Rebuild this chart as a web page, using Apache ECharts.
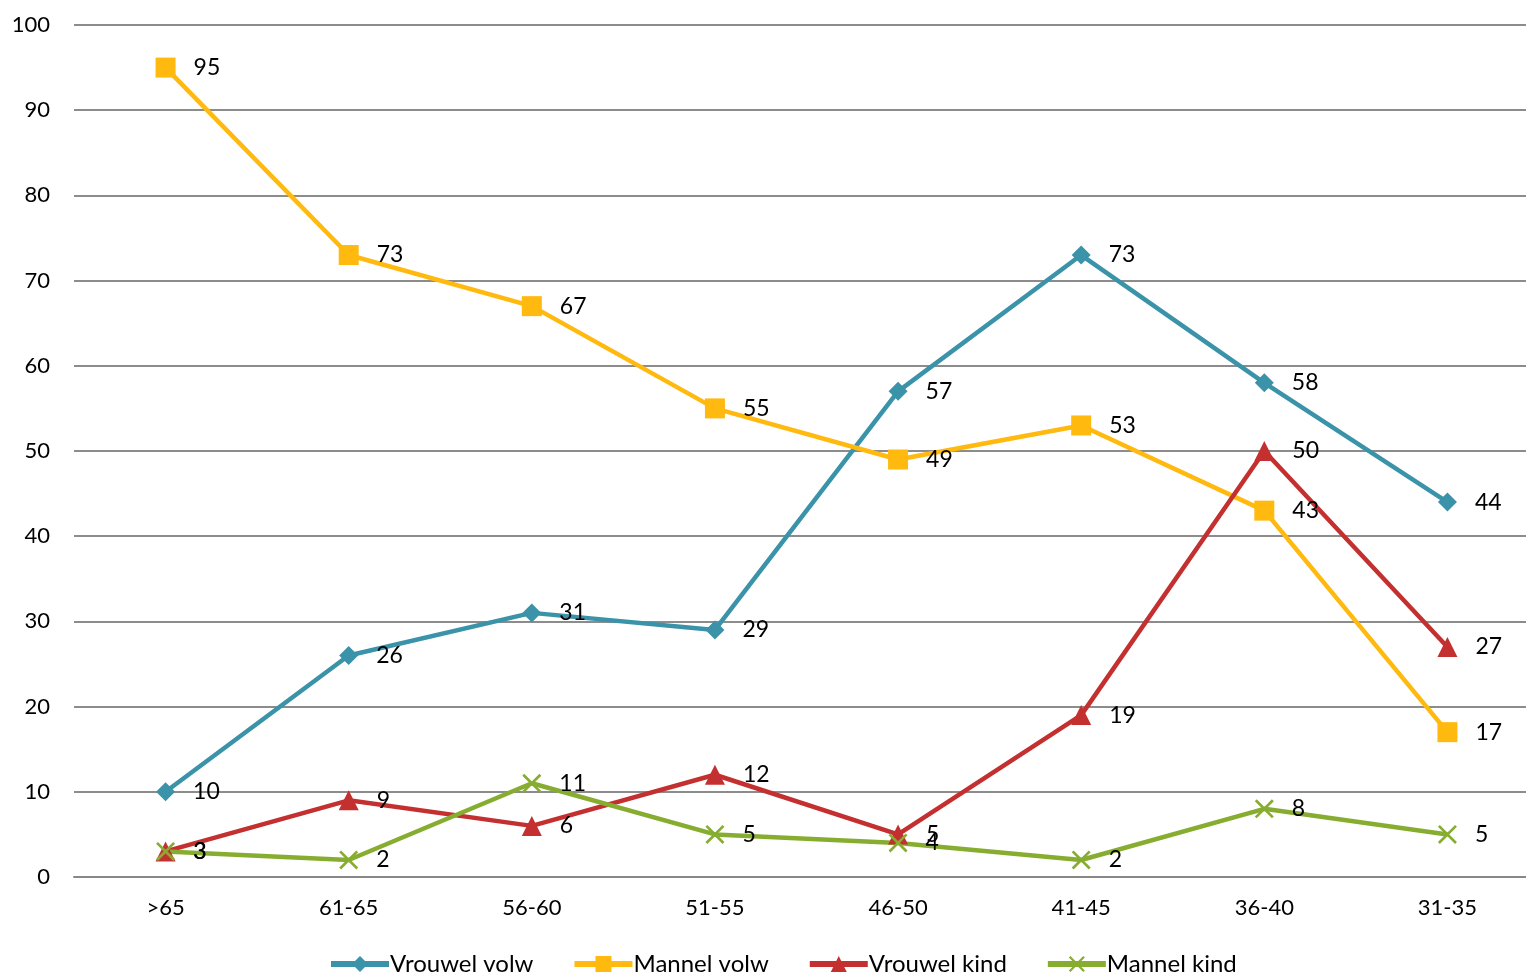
<!DOCTYPE html>
<html>
<head>
<meta charset="utf-8">
<script src="https://cdn.jsdelivr.net/npm/echarts@6/dist/echarts.min.js"></script>
<style>
  html, body { margin: 0; padding: 0; background: #fff; overflow: hidden; }
  /* plot area runs a little past the right edge of the window, as in the original */
  #chart { width: 1539px; height: 978px; }
</style>
</head>
<body>
<div id="chart"></div>
<script>
// age groups
const categories = ['>65', '61-65', '56-60', '51-55', '46-50', '41-45', '36-40', '31-35']

const vrouwelVolw = [10, 26, 31, 29, 57, 73, 58, 44]
const mannelVolw = [95, 73, 67, 55, 49, 53, 43, 17]
const vrouwelKind = [3, 9, 6, 12, 5, 19, 50, 27]
const mannelKind = [3, 2, 11, 5, 4, 2, 8, 5]

const yTicks = [0, 10, 20, 30, 40, 50, 60, 70, 80, 90, 100]

const font = 'Lato, "Open Sans", sans-serif'
const crossPath = 'path://M0,1L1,0L10,9L9,10Z M9,0L10,1L1,10L0,9Z'

function lineSeries(name, data, color, symbol, size) {
  return {
    name: name,
    type: 'line',
    data: data,
    symbol: symbol,
    symbolSize: size,
    lineStyle: { color: color, width: 4.5 },
    itemStyle: { color: color },
    label: {
      show: true,
      position: 'right',
      distance: 18,
      color: '#000',
      fontSize: 23,
      fontFamily: font
    },
    emphasis: { disabled: true },
    animation: false
  }
}

const chart = echarts.init(document.getElementById('chart'))
chart.setOption({
  animation: false,
  grid: {
    left: 74,
    right: 0,
    top: 25,
    bottom: 101
  },
  legend: {
    bottom: -3,
    left: 323,
    itemWidth: 58,
    itemHeight: 20,
    itemGap: 38,
    lineStyle: { width: 6 },
    textStyle: { color: '#000', fontSize: 24, fontFamily: font, padding: [0, 0, 0, -4] }
  },
  xAxis: {
    type: 'category',
    data: categories,
    boundaryGap: true,
    axisLine: { lineStyle: { color: '#888', width: 2 } },
    axisTick: { show: false },
    axisLabel: { color: '#000', fontSize: 22, fontFamily: font, margin: 20 }
  },
  yAxis: {
    type: 'value',
    min: yTicks[0],
    max: yTicks[yTicks.length - 1],
    interval: 10,
    axisLine: { show: false },
    axisTick: { show: false },
    splitLine: { lineStyle: { color: '#8c8c8c', width: 2 } },
    axisLabel: { color: '#000', fontSize: 22, fontFamily: font, margin: 24 }
  },
  series: [
    lineSeries('Vrouwel volw', vrouwelVolw, '#3b93a9', 'diamond', 19),
    lineSeries('Mannel volw', mannelVolw, '#ffb90f', 'rect', 20),
    lineSeries('Vrouwel kind', vrouwelKind, '#c3302f', 'triangle', 20),
    lineSeries('Mannel kind', mannelKind, '#87ad30', crossPath, 19)
  ]
})
</script>
</body>
</html>
